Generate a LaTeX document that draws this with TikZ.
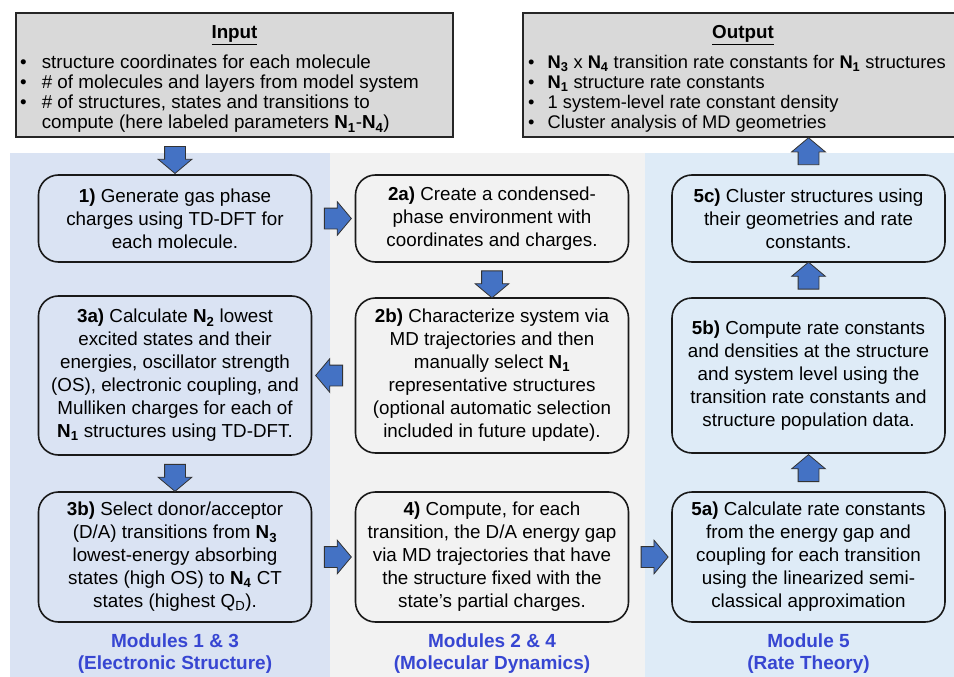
\documentclass[tikz,border=0pt]{standalone}
\usepackage{fontspec}
\setmainfont{Liberation Sans}
\usetikzlibrary{shapes.arrows,calc}
\definecolor{colA}{HTML}{DAE3F3}
\definecolor{colB}{HTML}{F2F2F2}
\definecolor{colC}{HTML}{DEEBF7}
\definecolor{ioGray}{HTML}{D9D9D9}
\definecolor{arrBlue}{HTML}{4472C4}
\definecolor{modBlue}{RGB}{55,70,210}
\tikzset{
  stepbox/.style={draw=black!90, line width=1.6pt, rounded corners=20pt, align=center,
    inner sep=0pt, minimum width=273pt, font=\fontsize{18.8}{23}\selectfont},
  iobox/.style={draw=black!85, fill=ioGray, line width=1.6pt},
  barrow/.style={single arrow, draw=black!80, fill=arrBlue, line width=0.8pt,
    inner sep=0pt, single arrow head extend=6.5pt,
    single arrow tip angle=100, minimum height=27pt},
  barrowH/.style={barrow, inner ysep=10pt},
  barrowV/.style={barrow, inner xsep=10pt},
  modlabel/.style={text=modBlue, align=center, font=\bfseries\fontsize{19}{22}\selectfont},
  listtext/.style={inner sep=0pt, anchor=base west, font=\fontsize{18.8}{20}\selectfont},
  headtext/.style={inner sep=0pt, anchor=base, font=\bfseries\fontsize{18.8}{20}\selectfont}
}
\begin{document}
\begin{tikzpicture}[x=1pt,y=-1pt]
\useasboundingbox (0,0) rectangle (954,677);
\clip (0,0) rectangle (954,677);
% column backgrounds
\fill[colA] (10,153) rectangle (330,677);
\fill[colB] (330,153) rectangle (645,677);
\fill[colC] (645,153) rectangle (954,677);
% input / output
\draw[iobox] (16,13) rectangle (453,137);
\coordinate (inS) at (175,137);
\node[headtext] (inhead) at (234.5,39) {\underline{Input}};
\node[listtext] (inlist) at (20,69) {\begin{tabular}[t]{@{}l@{\hspace{15pt}}l@{}}
• & structure coordinates for each molecule\\
• & \# of molecules and layers from model system\\
• & \# of structures, states and transitions to\\
  & compute (here labeled parameters \textbf{N\textsubscript{1}}-\textbf{N\textsubscript{4}})
\end{tabular}};
\draw[iobox] (523,13) rectangle (963,137);
\coordinate (outS) at (808.5,137);
\node[headtext] (outhead) at (743,39) {\underline{Output}};
\node[listtext, font=\fontsize{18.3}{20}\selectfont] (outlist) at (528,69) {\begin{tabular}[t]{@{}l@{\hspace{13pt}}l@{}}
• & \textbf{N\textsubscript{3}} x \textbf{N\textsubscript{4}} transition rate constants for \textbf{N\textsubscript{1}} structures\\
• & \textbf{N\textsubscript{1}} structure rate constants\\
• & 1 system-level rate constant density\\
• & Cluster analysis of MD geometries
\end{tabular}};
% row 1
\node[stepbox, minimum height=87pt] (n1) at (175,218.5) {\textbf{1)} Generate gas phase\\charges using TD-DFT for\\each molecule.};
\node[stepbox, minimum height=87pt] (n2a) at (492,218.5) {\textbf{2a)} Create a condensed-\\phase environment with\\coordinates and charges.};
\node[stepbox, minimum height=87pt] (n5c) at (808.5,218.5) {\textbf{5c)} Cluster structures using\\their geometries and rate\\constants.};
% row 2
\node[stepbox, minimum height=159pt] (n3a) at (175,375.5) {\textbf{3a)} Calculate \textbf{N\textsubscript{2}} lowest\\excited states and their\\energies, oscillator strength\\(OS), electronic coupling, and\\Mulliken charges for each of\\\textbf{N\textsubscript{1}} structures using TD-DFT.};
\node[stepbox, minimum height=155pt] (n2b) at (492,375.5) {\textbf{2b)} Characterize system via\\MD trajectories and then\\manually select \textbf{N\textsubscript{1}}\\representative structures\\(optional automatic selection\\included in future update).};
\node[stepbox, minimum height=155pt] (n5b) at (808.5,375.5) {\textbf{5b)} Compute rate constants\\and densities at the structure\\and system level using the\\transition rate constants and\\structure population data.};
% row 3
\node[stepbox, minimum height=130pt] (n3b) at (175,557) {\textbf{3b)} Select donor/acceptor\\(D/A) transitions from \textbf{N\textsubscript{3}}\\lowest-energy absorbing\\states (high OS) to \textbf{N\textsubscript{4}} CT\\states (highest Q\textsubscript{D}).};
\node[stepbox, minimum height=130pt] (n4) at (492,557) {\textbf{4)} Compute, for each\\transition, the D/A energy gap\\via MD trajectories that have\\the structure fixed with the\\state’s partial charges.};
\node[stepbox, minimum height=130pt] (n5a) at (808.5,557) {\textbf{5a)} Calculate rate constants\\from the energy gap and\\coupling for each transition\\using the linearized semi-\\classical approximation};
% block arrows
\node[barrowV, shape border rotate=270] (a0) at ($(inS)!0.5!(n1.north)$) {};
\node[barrowH] (a1) at ($(n1.east)!0.5!(n2a.west)$) {};
\node[barrowV, shape border rotate=270] (a2) at ($(n2a.south)!0.5!(n2b.north)$) {};
\node[barrowH, shape border rotate=180] (a3) at ($(n2b.west)!0.5!(n3a.east |- n2b.west)$) {};
\node[barrowV, shape border rotate=270] (a4) at ($(n3a.south)!0.5!(n3b.north)$) {};
\node[barrowH] (a5) at ($(n3b.east)!0.5!(n4.west)$) {};
\node[barrowH] (a6) at ($(n4.east)!0.5!(n5a.west)$) {};
\node[barrowV, shape border rotate=90] (a7) at ($(n5a.north)!0.5!(n5b.south)$) {};
\node[barrowV, shape border rotate=90] (a8) at ($(n5b.north)!0.5!(n5c.south)$) {};
\node[barrowV, shape border rotate=90] (a9) at ($(n5c.north)!0.5!(outS)$) {};
% module labels
\node[modlabel] (m1) at (175,654) {Modules 1 \& 3\\(Electronic Structure)};
\node[modlabel] (m2) at (492,654) {Modules 2 \& 4\\(Molecular Dynamics)};
\node[modlabel] (m3) at (808.5,654) {Module 5\\(Rate Theory)};
\end{tikzpicture}
\end{document}
